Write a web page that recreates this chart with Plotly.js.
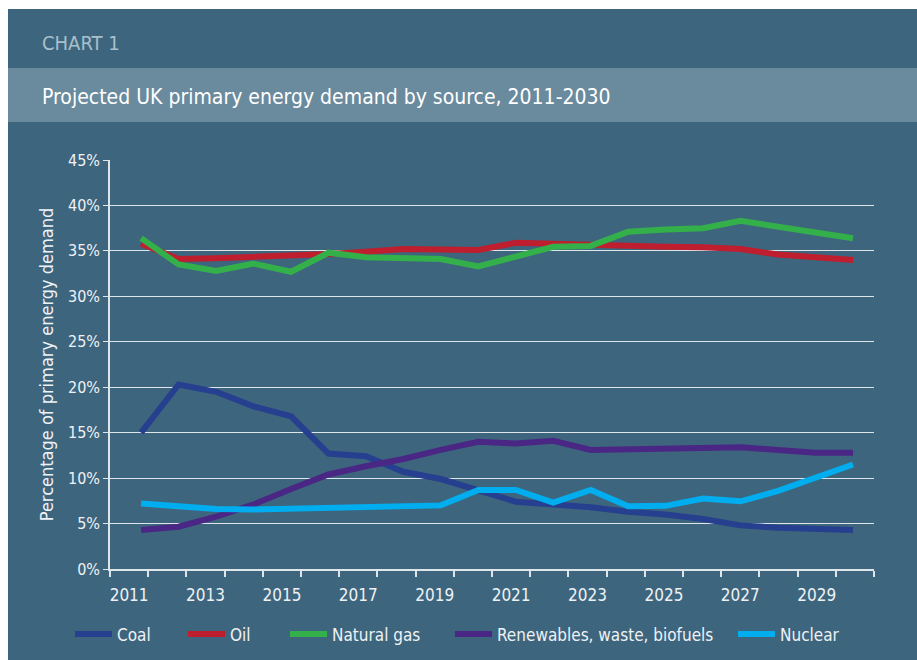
<!DOCTYPE html>
<html>
<head>
<meta charset="utf-8">
<script src="https://cdn.plot.ly/plotly-3.0.1.min.js"></script>
<style>
  html, body { margin: 0; padding: 0; background: #ffffff; }
  #gd { position: absolute; left: 8px; top: 9px; width: 909px; height: 651px; }
</style>
</head>
<body>
<div id="gd"></div>
<script>
const years = [2011, 2012, 2013, 2014, 2015, 2016, 2017, 2018, 2019, 2020,
               2021, 2022, 2023, 2024, 2025, 2026, 2027, 2028, 2029, 2030];

const coal = [15.0, 20.3, 19.5, 17.9, 16.8, 12.7, 12.4, 10.7, 9.9, 8.6,
              7.4, 7.1, 6.8, 6.3, 6.0, 5.5, 4.8, 4.55, 4.45, 4.3];
const oil = [35.8, 34.1, 34.2, 34.3, 34.4, 34.65, 34.9, 35.2, 35.15, 35.1,
             35.9, 35.75, 35.6, 35.5, 35.45, 35.4, 35.2, 34.6, 34.35, 34.0];
const gas = [36.4, 33.5, 32.8, 33.6, 32.7, 34.8, 34.3, 34.2, 34.1, 33.3,
             34.3, 35.45, 35.55, 37.1, 37.35, 37.5, 38.3, 37.7, 37.1, 36.4];
const renewables = [4.3, 4.65, 5.75, 7.1, 8.8, 10.4, 11.3, 12.1, 13.1, 14.0,
                    13.8, 14.1, 13.1, 13.15, 13.3, 13.35, 13.4, 13.1, 12.8, 12.8];
const nuclear = [7.2, 6.95, 6.6, 6.55, 6.65, 6.7, 6.8, 6.9, 7.0, 8.7,
                 8.7, 7.3, 8.7, 6.9, 6.95, 7.75, 7.45, 8.6, 10.1, 11.5];

const seriesNames = ['Coal', 'Oil', 'Natural gas', 'Renewables, waste, biofuels', 'Nuclear'];
const seriesValues = [coal, oil, gas, renewables, nuclear];
const seriesColors = ['#263f8e', '#be1e2d', '#34b04a', '#4a2784', '#00aeef'];

const bg = '#3e657e';
const light = '#dfe6eb';
const textCol = '#eef2f5';
const fontFam = '"Liberation Sans Narrow", "DejaVu Sans Condensed", "Open Sans", sans-serif';

// category slots: data sits slightly off the slot centres, as in the original
const xr = [2010.17, 2030.56];
const slot = (xr[1] - xr[0]) / years.length;
const slotEdges = [];
for (let i = 0; i <= years.length; i++) slotEdges.push(xr[0] + slot * i + (i === years.length ? -0.001 : 0.001));
const labelYears = years.filter(y => y % 2 === 1);
const labelPos = labelYears.map(y => xr[0] + slot * (y - years[0] + 0.5));

// one legend per series so each entry sits where the original puts it
const legendLeft = [62, 175, 277, 442, 725];
const legendIds = ['legend', 'legend2', 'legend3', 'legend4', 'legend5'];

const data = seriesNames.map((name, i) => ({
  x: years,
  y: seriesValues[i],
  name: name,
  mode: 'lines',
  line: { color: seriesColors[i], width: 6 },
  legend: legendIds[i],
  hoverinfo: 'x+y+name'
}));

const layout = {
  width: 909,
  height: 651,
  paper_bgcolor: bg,
  plot_bgcolor: bg,
  margin: { l: 102, r: 43, t: 151, b: 91, autoexpand: false },
  font: { family: fontFam, color: textCol, size: 16 },
  showlegend: true,
  xaxis: {
    range: xr,
    autorange: false,
    showgrid: false,
    zeroline: false,
    showline: true,
    linecolor: light,
    linewidth: 1.5,
    tickmode: 'array',
    tickvals: labelPos,
    ticktext: labelYears.map(String),
    ticks: '',
    ticklabelstandoff: 10,
    tickfont: { size: 17, color: textCol },
    minor: {
      tickmode: 'array',
      tickvals: slotEdges,
      ticks: 'outside',
      ticklen: 6,
      tickwidth: 1.5,
      tickcolor: light,
      showgrid: false
    },
    fixedrange: true
  },
  yaxis: {
    range: [0, 45],
    autorange: false,
    dtick: 5,
    ticksuffix: '%',
    showgrid: true,
    gridcolor: light,
    gridwidth: 1.3,
    zeroline: false,
    showline: true,
    linecolor: light,
    linewidth: 1.5,
    ticks: 'outside',
    ticklen: 5,
    tickwidth: 1.3,
    tickcolor: light,
    tickfont: { size: 16, color: textCol },
    title: {
      text: 'Percentage of primary energy demand',
      font: { size: 18, color: textCol },
      standoff: 10
    },
    fixedrange: true
  },
  shapes: [
    {
      type: 'rect', xref: 'paper', yref: 'paper', layer: 'below',
      x0: -102 / 764, x1: 807 / 764, y0: 1 + 38 / 409, y1: 1 + 92 / 409,
      fillcolor: '#6a8a9e', line: { width: 0 }
    }
  ],
  annotations: [
    {
      text: 'CHART 1', xref: 'paper', yref: 'paper',
      x: -70 / 764, y: 1 + 117 / 409, xanchor: 'left', yanchor: 'middle',
      showarrow: false, font: { size: 20, color: '#a9c0cd', family: fontFam }
    },
    {
      text: 'Projected UK primary energy demand by source, 2011-2030', xref: 'paper', yref: 'paper',
      x: -70 / 764, y: 1 + 63 / 409, xanchor: 'left', yanchor: 'middle',
      showarrow: false, font: { size: 21, color: '#ffffff', family: fontFam }
    }
  ]
};

legendIds.forEach((id, i) => {
  layout[id] = {
    orientation: 'h',
    x: (legendLeft[i] - 102) / 764,
    xanchor: 'left',
    y: -0.16,
    yanchor: 'middle',
    itemwidth: 37,
    font: { size: 17, color: textCol },
    bgcolor: 'rgba(0,0,0,0)'
  };
});

Plotly.newPlot('gd', data, layout, { displayModeBar: false });
</script>
</body>
</html>
